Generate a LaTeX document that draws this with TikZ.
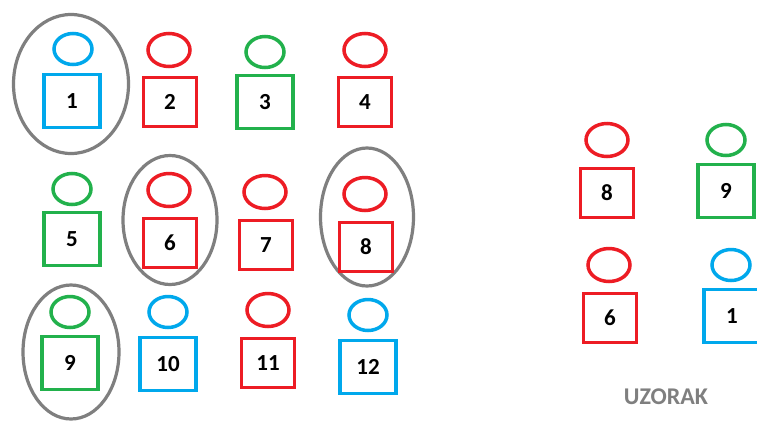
\documentclass[tikz,border=0pt]{standalone}
\usepackage{fontspec}
\setmainfont{Carlito}
\usepackage{tikz}
\usetikzlibrary{shapes.geometric}

\definecolor{figblue}{RGB}{0,168,236}
\definecolor{figred}{RGB}{237,28,36}
\definecolor{figgreen}{RGB}{34,177,76}
\definecolor{pickgray}{RGB}{127,127,127}

\begin{document}
\begin{tikzpicture}[
    x=1pt, y=-1pt,
    head/.style={ellipse, draw, line width=3.5pt, inner sep=0pt},
    body/.style={rectangle, draw, line width=3.5pt, inner sep=0pt,
        font=\fontsize{23}{25}\selectfont\bfseries},
    inblue/.style={draw=figblue, head size/.style={minimum width=38pt, minimum height=31pt},
        body size/.style={minimum width=56pt, minimum height=53pt}},
    ingreen/.style={draw=figgreen, head size/.style={minimum width=38pt, minimum height=31pt},
        body size/.style={minimum width=56pt, minimum height=53pt}},
    inred/.style={draw=figred, head size/.style={minimum width=42pt, minimum height=33pt},
        body size/.style={minimum width=53pt, minimum height=49pt}},
    pick/.style={ellipse, draw=pickgray, line width=3.2pt, inner sep=0pt}
]
\useasboundingbox[fill=white] (0,0) rectangle (757,421);

% circled picks
\node[pick, minimum width=115pt, minimum height=139pt] (g1) at (71,84) {};
\node[pick, minimum width=94pt, minimum height=129pt] (g6) at (170,220) {};
\node[pick, minimum width=93pt, minimum height=138pt] (g8) at (367,217) {};
\node[pick, minimum width=96pt, minimum height=134pt] (g9) at (71,352) {};

% figures: name/label/head x/head y/body x/body y/colour
\foreach \n/\t/\hx/\hy/\bx/\by/\c in {
    f1/1/73/49/72/101/inblue, f2/2/169/50/170/102/inred,
    f3/3/265/52/265/102/ingreen, f4/4/365/50/365/102/inred,
    f5/5/72/189/72/239/ingreen, f6/6/169/190/170/243/inred,
    f7/7/265/192/266/245/inred, f8/8/365/194/366/247/inred,
    f9/9/70/312/70/363/ingreen, f10/10/168/312/168/364/inblue,
    f11/11/268/310/268/363/inred, f12/12/368/315/368/367/inblue,
    r8/8/607/140/607/193/inred, r9/9/726/140/726/191/ingreen,
    r6/6/609/265/610/318/inred, r1/1/731/265/732/316/inblue}
{
    \node[head, \c, head size] (\n h) at (\hx,\hy) {};
    \node[body, \c, body size] (\n b) at (\bx,\by) {\t};
}

\node[text=pickgray, font=\fontsize{24}{26}\selectfont\bfseries] (sample) at (666,397) {UZORAK};
\end{tikzpicture}
\end{document}
